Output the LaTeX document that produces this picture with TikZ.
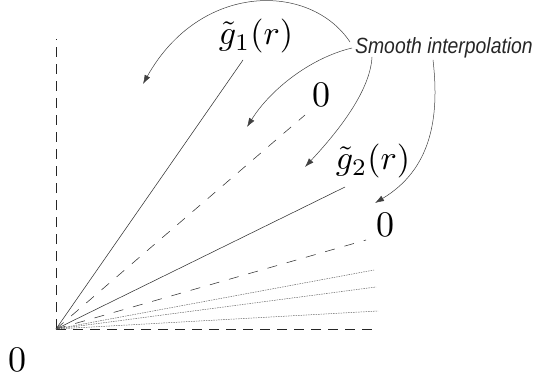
\documentclass[tikz,border=0pt]{standalone}
\usepackage{graphicx}
\usepackage{fontspec}
\newfontfamily\labelfont[FakeStretch=0.88]{Liberation Sans}
\usetikzlibrary{arrows.meta}
\newcommand{\biglbl}[1]{\scalebox{3.4}{#1}}
\newcommand{\bigzero}{\scalebox{3.6}{0}}
\tikzset{
  axisline/.style={line width=0.6pt, black!85, dash pattern=on 10pt off 7pt},
  solidray/.style={line width=0.55pt, black!80},
  dashray/.style={line width=0.55pt, black!80, dash pattern=on 10pt off 10pt},
  dotray/.style={line width=0.5pt, black!60, dash pattern=on 1.5pt off 1pt},
  interp/.style={line width=0.5pt, black!75, -{Latex[length=9pt,width=6pt]}},
  mathlbl/.style={inner sep=0pt, anchor=base},
  zerolbl/.style={inner sep=0pt, anchor=base},
  notelbl/.style={font=\labelfont\itshape\fontsize{22}{24}\selectfont, text=black!85, inner sep=0pt, anchor=base west}
}
\begin{document}
\begin{tikzpicture}[x=1pt,y=-1pt]
\useasboundingbox (0,0) rectangle (534,379);
% origin and ray ends
\coordinate (O) at (56,329);
\coordinate (vtop) at (56,39);
\coordinate (hend) at (377,329);
\coordinate (s1) at (243,60);
\coordinate (d1) at (305,115);
\coordinate (s2) at (345,187);
\coordinate (d2) at (366,240);
\coordinate (p1) at (374,270);
\coordinate (p2) at (376,287);
\coordinate (p3) at (378,311);
% axes
\draw[axisline] (O) -- (vtop);
\draw[axisline] (O) -- (hend);
% rays
\draw[solidray] (O) -- (s1);
\draw[dashray] (O) -- (d1);
\draw[solidray] (O) -- (s2);
\draw[dashray] (O) -- (d2);
\draw[dotray] (O) -- (p1);
\draw[dotray] (O) -- (p2);
\draw[dotray] (O) -- (p3);
% labels
\node[mathlbl] (g1) at (256,45) {\biglbl{$\tilde{g}_1(r)$}};
\node[zerolbl] (z1) at (321.5,107) {\bigzero};
\node[mathlbl] (g2) at (373,170) {\biglbl{$\tilde{g}_2(r)$}};
\node[zerolbl] (z2) at (385,236) {\bigzero};
\node[zerolbl] (z0) at (18,371) {\bigzero};
\node[notelbl] (note) at (355,54) {Smooth interpolation};
% interpolation arrows
\coordinate (a0) at (350,42);
\coordinate (a1) at (143,84);
\coordinate (b0) at (352,48);
\coordinate (b1) at (247,127);
\coordinate (c0) at (372,57);
\coordinate (c1) at (305,167);
\coordinate (e0) at (433,60);
\coordinate (e1) at (375,203);
\draw[interp] (a0) .. controls (310,-18) and (200,-18) .. (a1);
\draw[interp] (b0) .. controls (310,58) and (270,90) .. (b1);
\draw[interp] (c0) .. controls (370,95) and (330,140) .. (c1);
\draw[interp] (e0) .. controls (440,120) and (430,170) .. (e1);
\end{tikzpicture}
\end{document}
